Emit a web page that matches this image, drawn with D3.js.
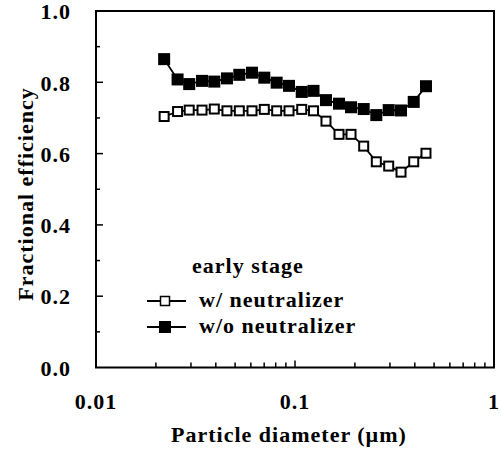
<!DOCTYPE html>
<html>
<head>
<meta charset="utf-8">
<script src="https://cdn.jsdelivr.net/npm/d3@7/dist/d3.min.js"></script>
<style>
  html, body { margin: 0; padding: 0; background: #fff; }
  svg { display: block; }
  text { font-family: "Liberation Serif", "Times New Roman", serif; font-weight: bold; fill: #000;
         font-size: 22px; letter-spacing: 1px; }
</style>
</head>
<body>
<svg id="chart" width="501" height="459"></svg>
<script>
// Particle size channels (µm)
const diameters = [0.0220, 0.0257, 0.0294, 0.0341, 0.0393, 0.0455, 0.0525, 0.0608,
                   0.0701, 0.0809, 0.0933, 0.1081, 0.1239, 0.1431, 0.1664, 0.1912,
                   0.2214, 0.2562, 0.2957, 0.3410, 0.3950, 0.4552];
// Fractional efficiency, early stage
const withNeutralizer = [0.704, 0.718, 0.722, 0.722, 0.725, 0.720, 0.720, 0.720,
                         0.724, 0.720, 0.720, 0.724, 0.720, 0.691, 0.654, 0.654,
                         0.621, 0.577, 0.565, 0.548, 0.577, 0.601];
const withoutNeutralizer = [0.865, 0.808, 0.795, 0.804, 0.802, 0.811, 0.821, 0.827,
                            0.813, 0.799, 0.790, 0.773, 0.776, 0.750, 0.740, 0.730,
                            0.725, 0.708, 0.722, 0.721, 0.745, 0.789];
const yTickValues = [0, 0.2, 0.4, 0.6, 0.8, 1.0];
const xTickValues = [0.01, 0.1, 1];
const xTickLabels = ["0.01", "0.1", "1"];
const legendTitle = "early stage";
const seriesNames = ["w/ neutralizer", "w/o neutralizer"];

const svg = d3.select("#chart");
const plotL = 96, plotR = 494, plotT = 11, plotB = 367.5;

const x = d3.scaleLog().domain([0.01, 1]).range([plotL, plotR]);
const y = d3.scaleLinear().domain([0, 1]).range([plotB, plotT]);

// Frame
svg.append("rect")
  .attr("x", plotL).attr("y", plotT)
  .attr("width", plotR - plotL).attr("height", plotB - plotT)
  .attr("fill", "none").attr("stroke", "#000").attr("stroke-width", 2);

// X ticks: inward, minor at 2..9 in each decade
const xMinor = [];
[0.01, 0.1].forEach(d => { for (let k = 2; k <= 9; k++) xMinor.push(d * k); });
svg.append("g").selectAll("line").data(xMinor).join("line")
  .attr("x1", d => x(d)).attr("x2", d => x(d))
  .attr("y1", plotB).attr("y2", plotB - 5)
  .attr("stroke", "#000").attr("stroke-width", 1.5);
svg.append("g").selectAll("line").data([0.1]).join("line")
  .attr("x1", d => x(d)).attr("x2", d => x(d))
  .attr("y1", plotB).attr("y2", plotB - 7)
  .attr("stroke", "#000").attr("stroke-width", 1.5);

// Y ticks: inward, major every 0.2 and minor every 0.1
const yMinor = d3.range(0.1, 1.0, 0.2);
svg.append("g").selectAll("line").data(yMinor).join("line")
  .attr("x1", plotL).attr("x2", plotL + 4)
  .attr("y1", d => y(d)).attr("y2", d => y(d))
  .attr("stroke", "#000").attr("stroke-width", 1.5);
svg.append("g").selectAll("line").data(yTickValues.slice(1, -1)).join("line")
  .attr("x1", plotL).attr("x2", plotL + 7)
  .attr("y1", d => y(d)).attr("y2", d => y(d))
  .attr("stroke", "#000").attr("stroke-width", 1.5);

// Tick labels
svg.append("g").selectAll("text").data(yTickValues).join("text")
  .attr("x", 71).attr("y", d => y(d) + 1)
  .attr("dy", "0.33em")
  .attr("text-anchor", "end")
  .text(d => d.toFixed(1));
svg.append("g").selectAll("text").data(xTickValues).join("text")
  .attr("x", d => x(d)).attr("y", 402)
  .attr("dy", "0.33em")
  .attr("text-anchor", "middle")
  .text((d, i) => xTickLabels[i]);

// Axis titles
svg.append("text")
  .attr("x", 289).attr("y", 435).attr("dy", "0.33em")
  .attr("text-anchor", "middle")
  .text("Particle diameter (µm)");
svg.append("text")
  .attr("transform", "translate(26,194) rotate(-90)")
  .attr("dy", "0.33em")
  .attr("text-anchor", "middle")
  .text("Fractional efficiency");

// Series
const line = d3.line().x(d => x(d[0])).y(d => y(d[1]));
const openData = diameters.map((d, i) => [d, withNeutralizer[i]]);
const filledData = diameters.map((d, i) => [d, withoutNeutralizer[i]]);

function drawSeries(data, filled) {
  const g = svg.append("g");
  g.append("path").datum(data).attr("d", line)
    .attr("fill", "none").attr("stroke", "#000").attr("stroke-width", 1.8);
  const s = filled ? 12 : 9;
  g.selectAll("rect").data(data).join("rect")
    .attr("x", d => x(d[0]) - s / 2).attr("y", d => y(d[1]) - s / 2)
    .attr("width", s).attr("height", s)
    .attr("fill", filled ? "#000" : "#fff")
    .attr("stroke", "#000").attr("stroke-width", filled ? 0 : 2);
}
drawSeries(openData, false);
drawSeries(filledData, true);

// Legend
svg.append("text")
  .attr("x", 248).attr("y", 266).attr("dy", "0.33em")
  .attr("text-anchor", "middle")
  .text(legendTitle);
const legendRows = [{ name: seriesNames[0], filled: false, yy: 301 },
                    { name: seriesNames[1], filled: true, yy: 327 }];
legendRows.forEach(r => {
  svg.append("line").attr("x1", 147).attr("x2", 186)
    .attr("y1", r.yy).attr("y2", r.yy)
    .attr("stroke", "#000").attr("stroke-width", 1.8);
  const s = r.filled ? 12 : 9;
  svg.append("rect").attr("x", 165 - s / 2).attr("y", r.yy - s / 2)
    .attr("width", s).attr("height", s)
    .attr("fill", r.filled ? "#000" : "#fff")
    .attr("stroke", "#000").attr("stroke-width", r.filled ? 0 : 1.5);
  svg.append("text").attr("x", 199).attr("y", r.yy - 1).attr("dy", "0.33em")
    .text(r.name);
});
</script>
</body>
</html>
